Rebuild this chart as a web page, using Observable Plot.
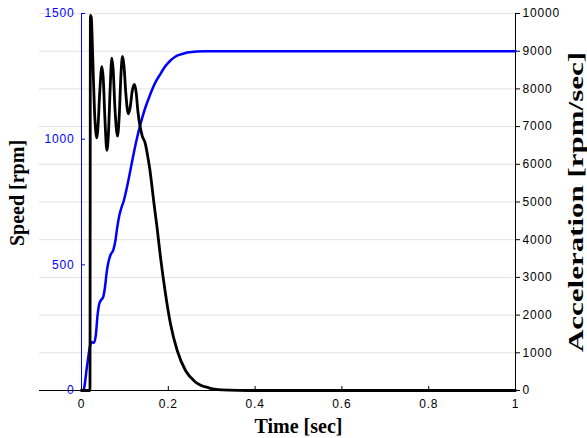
<!DOCTYPE html>
<html><head><meta charset="utf-8">
<script src="https://cdn.jsdelivr.net/npm/d3@7"></script>
<script src="https://cdn.jsdelivr.net/npm/@observablehq/plot@0.6"></script>
<style>
body{margin:0;background:#fff}
#chart svg{display:block}
#chart svg g[aria-label$="axis tick label"] text{letter-spacing:0.8px}
</style></head><body><div id="chart"></div>
<script>
// Speed curve (blue, left axis, rpm)
const speedTime = [0, 0.004, 0.013, 0.020, 0.024, 0.029, 0.033, 0.037, 0.041, 0.046, 0.050, 0.054, 0.058, 0.062, 0.067, 0.073, 0.078, 0.082, 0.087, 0.092, 0.097, 0.103, 0.108, 0.117, 0.126, 0.136, 0.147, 0.159, 0.170, 0.182, 0.193, 0.205, 0.216, 0.228, 0.240, 0.251, 0.265, 0.285, 0.35, 1];
const speedRpm  = [0, 0, 100, 180, 192, 190, 220, 300, 345, 362, 372, 410, 470, 510, 540, 558, 595, 645, 695, 728, 752, 795, 836, 915, 990, 1061, 1125, 1181, 1225, 1260, 1290, 1313, 1328, 1337, 1343, 1346, 1349, 1350, 1350, 1350];

// Acceleration curve (black, right axis, rpm/sec)
const accTime  = [0, 0.0195, 0.0205, 0.0225, 0.026, 0.030, 0.0335, 0.0355, 0.038, 0.042, 0.0468, 0.050, 0.054, 0.0584, 0.062, 0.066, 0.0699, 0.073, 0.077, 0.083, 0.087, 0.091, 0.0945, 0.098, 0.102, 0.108, 0.112, 0.117, 0.122, 0.126, 0.130, 0.135, 0.140, 0.147, 0.152, 0.157, 0.162, 0.1666, 0.174, 0.182, 0.1935, 0.205, 0.2205, 0.2396, 0.263, 0.293, 0.324, 0.36, 0.40, 1];
const accValue = [0, 0, 9950, 9900, 8800, 7400, 6800, 6700, 7000, 7900, 8590, 8300, 7200, 6370, 6800, 8000, 8815, 8500, 7500, 6750, 7300, 8400, 8860, 8600, 7900, 7340, 7500, 7950, 8117, 7900, 7400, 7000, 6750, 6550, 6250, 5900, 5450, 4995, 4332, 3536, 2565, 1769, 1061, 530, 220, 72, 18, 3, 0, 0];

// Tick labels
const timeTicks  = [0, 0.2, 0.4, 0.6, 0.8, 1];
const speedTicks = [0, 500, 1000, 1500];
const accTicks   = [0, 1000, 2000, 3000, 4000, 5000, 6000, 7000, 8000, 9000, 10000];
const speedMax = 1500, accMax = 10000;
const k = accMax / speedMax;

const speed = speedTime.map((t, i) => ({t, v: speedRpm[i] * k}));
const acc = accTime.map((t, i) => ({t, a: accValue[i]}));

const titleFont = {fontFamily: "Liberation Serif, Times New Roman, serif", fontWeight: "bold", fontSize: 20, fill: "black", textAnchor: "middle"};

const chart = Plot.plot({
  width: 587, height: 438,
  marginLeft: 81, marginRight: 72, marginTop: 13, marginBottom: 48,
  style: {fontFamily: "Liberation Sans, Arial, sans-serif", fontSize: "12px", background: "white", overflow: "visible"},
  x: {domain: [0, 1]},
  y: {domain: [0, accMax]},
  marks: [
    Plot.gridY(accTicks, {stroke: "#e2e2e2", strokeOpacity: 1, insetLeft: -42}),
    Plot.ruleY([0], {stroke: "black", strokeWidth: 1.2, insetLeft: -42}),
    Plot.ruleX([0], {stroke: "blue"}),
    Plot.ruleX([1], {stroke: "black"}),
    Plot.axisX(timeTicks, {tickSize: -4, tickPadding: 13, color: "black", label: null, tickFormat: d => String(d)}),
    Plot.axisY(speedTicks.map(d => d * k), {anchor: "left", tickSize: -4, tickPadding: 11, tickFormat: d => String(Math.round(d / k)), color: "blue", label: null}),
    Plot.axisY(accTicks, {anchor: "right", tickSize: 4, tickPadding: 3, color: "black", label: null, tickFormat: d => String(d)}),
    Plot.line(speed, {x: "t", y: "v", stroke: "blue", strokeWidth: 2.5, curve: "monotone-x"}),
    Plot.line(acc, {x: "t", y: "a", stroke: "black", strokeWidth: 2.8, curve: "monotone-x"}),
    Plot.text(["Time [sec]"], {frameAnchor: "bottom", lineAnchor: "bottom", dy: 42, ...titleFont}),
    Plot.text(["Speed [rpm]"], {frameAnchor: "left", rotate: -90, dx: -64, dy: -9, ...titleFont}),
    Plot.text(["Acceleration [rpm/sec]"], {frameAnchor: "right", rotate: -90, dx: 61, ...titleFont, className: "acc-title"})
  ]
});
document.getElementById("chart").appendChild(chart);
// stretch the right-hand title along its reading direction, as in the reference
chart.querySelectorAll("text").forEach(t => {
  if (t.textContent === "Acceleration [rpm/sec]") {
    t.setAttribute("textLength", "300");
    t.setAttribute("lengthAdjust", "spacingAndGlyphs");
  }
});
</script>
</body></html>
